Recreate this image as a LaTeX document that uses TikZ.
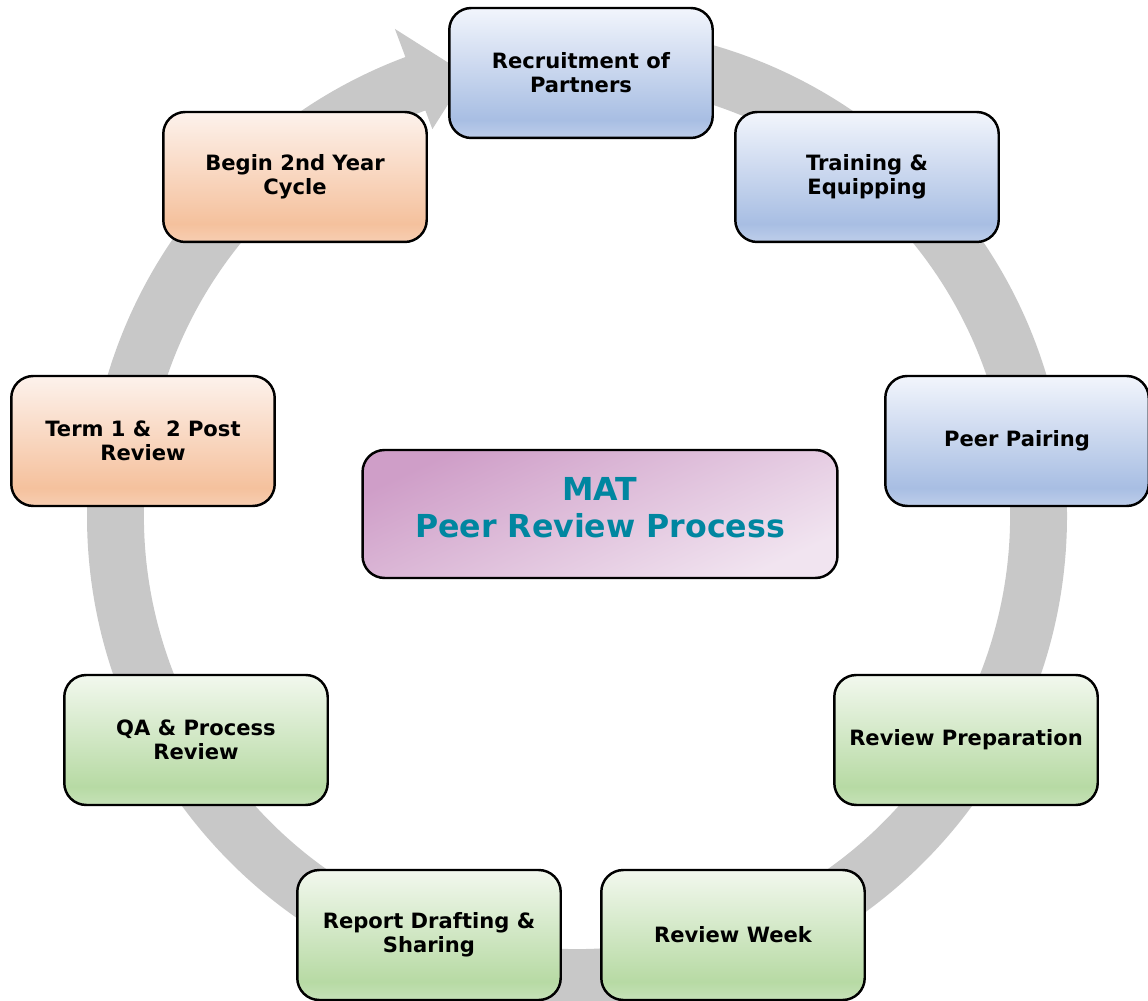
\documentclass[tikz,border=0pt]{standalone}
\usepackage{fontspec}
\setmainfont{DejaVu Sans}
\usepackage{xcolor}

\definecolor{ringgray}{RGB}{200,200,200}
\definecolor{bluetop}{RGB}{242,245,252}
\definecolor{bluemid}{RGB}{168,190,227}
\definecolor{bluebot}{RGB}{190,206,234}
\definecolor{greentop}{RGB}{242,248,238}
\definecolor{greenmid}{RGB}{183,218,164}
\definecolor{greenbot}{RGB}{198,226,184}
\definecolor{orangetop}{RGB}{253,242,236}
\definecolor{orangemid}{RGB}{245,193,157}
\definecolor{orangebot}{RGB}{247,206,178}
\definecolor{plumdark}{RGB}{207,158,200}
\definecolor{plumlight}{RGB}{241,228,240}
\definecolor{titleteal}{RGB}{0,134,160}

\pgfdeclareverticalshading{bluebox}{100bp}{color(0bp)=(bluebot); color(25bp)=(bluebot); color(32bp)=(bluemid); color(75bp)=(bluetop); color(100bp)=(bluetop)}
\pgfdeclareverticalshading{greenbox}{100bp}{color(0bp)=(greenbot); color(25bp)=(greenbot); color(32bp)=(greenmid); color(75bp)=(greentop); color(100bp)=(greentop)}
\pgfdeclareverticalshading{orangebox}{100bp}{color(0bp)=(orangebot); color(25bp)=(orangebot); color(32bp)=(orangemid); color(75bp)=(orangetop); color(100bp)=(orangetop)}

\begin{document}
\begin{tikzpicture}[x=0.02cm,y=0.02cm,
  stepbox/.style={draw=black,line width=1.4pt,rounded corners=0.44cm,
    minimum width=5.27cm,minimum height=2.6cm,inner sep=0pt,align=center,
    font=\bfseries\fontsize{12}{13.6}\selectfont},
  bluestep/.style={stepbox,shade,shading=bluebox},
  greenstep/.style={stepbox,shade,shading=greenbox},
  orangestep/.style={stepbox,shade,shading=orangebox}]
\useasboundingbox (0,0) rectangle (1148,1000);

% grey cycle arrow
\begin{scope}[shift={(577,484)}]
\fill[ringgray] (90:490) arc[start angle=90,end angle=-249.5,radius=490]
  -- (110.5:520) -- (104:455) -- (110.5:413) -- (110.5:433)
  arc[start angle=110.5,end angle=450,radius=433] -- cycle;
\end{scope}

\node[bluestep] (recruit) at (581,927) {Recruitment of\\Partners};
\node[bluestep] (training) at (867,823) {Training \&\\Equipping};
\node[bluestep] (pairing) at (1017,559) {Peer Pairing};
\node[greenstep] (prep) at (966,260) {Review Preparation};
\node[greenstep] (week) at (733,65) {Review Week};
\node[greenstep] (report) at (429,65) {Report Drafting \&\\Sharing};
\node[greenstep] (qa) at (196,260) {QA \& Process\\Review};
\node[orangestep] (term) at (143,559) {Term 1 \&\ \ 2 Post\\Review};
\node[orangestep] (cycle) at (295,823) {Begin 2nd Year\\Cycle};

\node[draw=black,line width=1.4pt,rounded corners=0.44cm,
  minimum width=9.5cm,minimum height=2.56cm,inner sep=0pt,align=center,
  top color=plumdark,bottom color=plumlight,shading angle=25,
  text=titleteal,font=\bfseries\fontsize{18}{21.5}\selectfont]
  (title) at (600,486) {MAT\\Peer Review Process\\[-14pt]};
\end{tikzpicture}
\end{document}
